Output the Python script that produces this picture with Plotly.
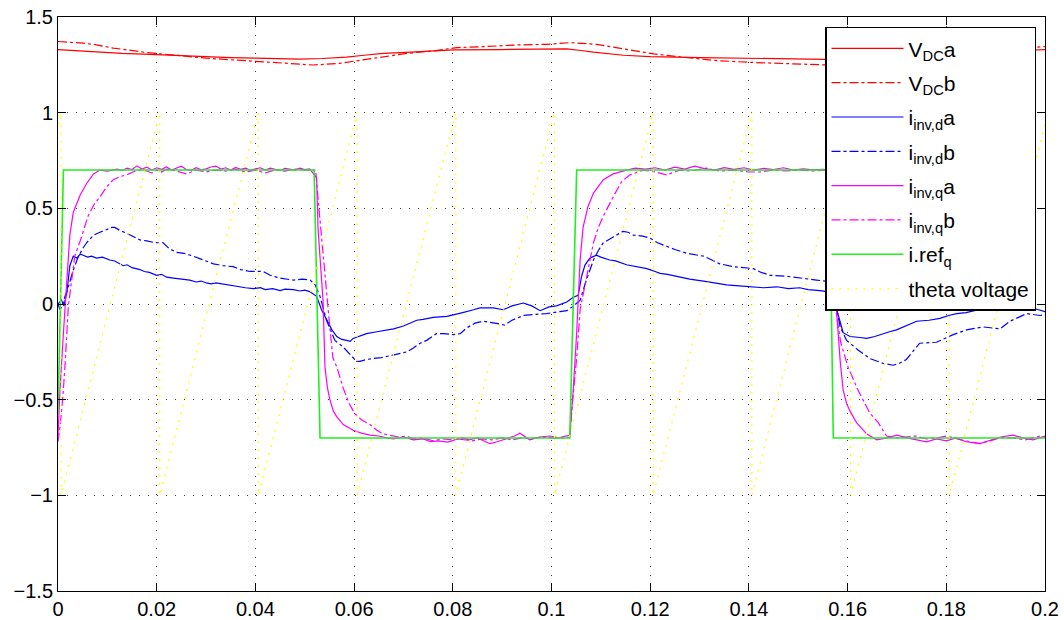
import plotly.graph_objects as go

# Simulation traces: (time [s], value) pairs for each signal.
vdc_a = [(0, 1.33), (0.003, 1.325), (0.008, 1.32), (0.013, 1.31), (0.0186, 1.305), (0.025, 1.298),
         (0.03, 1.29), (0.035, 1.288), (0.04, 1.285), (0.045, 1.282), (0.049, 1.28), (0.0535, 1.283),
         (0.0585, 1.29), (0.062, 1.30), (0.0659, 1.31), (0.0705, 1.315), (0.0747, 1.32), (0.0801, 1.328),
         (0.0896, 1.33), (0.0997, 1.333), (0.1031, 1.333), (0.106, 1.325), (0.1085, 1.316), (0.1146, 1.30),
         (0.12, 1.293), (0.1301, 1.288), (0.1402, 1.284), (0.1504, 1.28), (0.158, 1.275), (0.165, 1.275),
         (0.175, 1.285), (0.185, 1.305), (0.195, 1.325), (0.2, 1.33)]

vdc_b = [(0, 1.372), (0.0028, 1.368), (0.0051, 1.363), (0.0072, 1.357), (0.0095, 1.345), (0.0112, 1.337),
         (0.0132, 1.331), (0.018, 1.314), (0.024, 1.30), (0.03, 1.285), (0.036, 1.275), (0.042, 1.265),
         (0.0475, 1.255), (0.0517, 1.249), (0.0571, 1.258), (0.0646, 1.288), (0.0707, 1.31), (0.0761, 1.323),
         (0.0808, 1.34), (0.0862, 1.345), (0.093, 1.354), (0.099, 1.357), (0.1037, 1.366), (0.1092, 1.357),
         (0.1139, 1.337), (0.1207, 1.307), (0.1267, 1.29), (0.1335, 1.272), (0.1402, 1.263), (0.1483, 1.255),
         (0.155, 1.25), (0.162, 1.252), (0.17, 1.27), (0.18, 1.30), (0.19, 1.33), (0.2, 1.345)]

id_a = [(0, 0.0), (0.0007, 0.02), (0.0012, -0.01), (0.0018, 0.06), (0.0024, 0.20), (0.0031, 0.25),
        (0.0038, 0.24), (0.0045, 0.26), (0.0051, 0.255), (0.006, 0.245), (0.0068, 0.25), (0.0078, 0.24),
        (0.009, 0.245), (0.0105, 0.23), (0.0115, 0.225), (0.0125, 0.21), (0.0132, 0.20), (0.014, 0.205),
        (0.015, 0.19), (0.0166, 0.18), (0.0175, 0.17), (0.0185, 0.165), (0.02, 0.15), (0.021, 0.155),
        (0.022, 0.14), (0.0234, 0.135), (0.025, 0.13), (0.0267, 0.125), (0.028, 0.115), (0.029, 0.12),
        (0.0301, 0.11), (0.031, 0.105), (0.032, 0.11), (0.0342, 0.10), (0.0355, 0.095), (0.0369, 0.09),
        (0.038, 0.085), (0.0396, 0.08), (0.041, 0.085), (0.042, 0.075), (0.0435, 0.08), (0.045, 0.07),
        (0.046, 0.078), (0.0477, 0.075), (0.049, 0.068), (0.05, 0.072), (0.051, 0.065), (0.0524, 0.04),
        (0.0534, -0.03), (0.0544, -0.08), (0.0555, -0.135), (0.0565, -0.17), (0.0575, -0.185),
        (0.0585, -0.19), (0.0592, -0.195), (0.0598, -0.18), (0.061, -0.17), (0.0625, -0.155),
        (0.0646, -0.145), (0.0666, -0.135), (0.068, -0.13), (0.07, -0.115), (0.0715, -0.10),
        (0.0727, -0.085), (0.074, -0.08), (0.076, -0.07), (0.0788, -0.065), (0.0808, -0.05),
        (0.082, -0.045), (0.0842, -0.03), (0.0855, -0.02), (0.0882, -0.02), (0.0902, -0.03),
        (0.092, -0.01), (0.0943, 0.005), (0.096, -0.01), (0.0977, -0.035), (0.0995, -0.015),
        (0.101, -0.01), (0.1031, 0.01), (0.1044, 0.035), (0.1054, 0.045), (0.1061, 0.145),
        (0.1068, 0.205), (0.1078, 0.24), (0.1091, 0.255), (0.11, 0.245), (0.1118, 0.23), (0.113, 0.225),
        (0.1152, 0.205), (0.117, 0.195), (0.1193, 0.185), (0.121, 0.17), (0.122, 0.16), (0.1235, 0.155),
        (0.1254, 0.145), (0.128, 0.13), (0.1308, 0.12), (0.133, 0.11), (0.1355, 0.10), (0.138, 0.095),
        (0.1409, 0.09), (0.143, 0.085), (0.1457, 0.09), (0.148, 0.08), (0.1503, 0.085), (0.152, 0.075),
        (0.1544, 0.07), (0.156, 0.065), (0.1568, 0.04), (0.1578, -0.03), (0.1591, -0.15),
        (0.1605, -0.17), (0.1625, -0.175), (0.1639, -0.18), (0.1655, -0.17), (0.1666, -0.16),
        (0.1685, -0.145), (0.1699, -0.135), (0.172, -0.11), (0.174, -0.09), (0.1765, -0.085),
        (0.1787, -0.075), (0.1805, -0.06), (0.1821, -0.05), (0.184, -0.045), (0.1868, -0.03),
        (0.189, -0.015), (0.1909, 0.0), (0.193, 0.01), (0.1949, 0.02), (0.1963, -0.03), (0.198, -0.025),
        (0.2, -0.04)]

id_b = [(0, 0.0), (0.0004, -0.03), (0.0009, -0.01), (0.0014, 0.04), (0.002, 0.08), (0.003, 0.17),
        (0.004, 0.24), (0.005, 0.29), (0.0058, 0.32), (0.0072, 0.36), (0.0085, 0.375), (0.0099, 0.39),
        (0.0109, 0.40), (0.0115, 0.40), (0.0125, 0.385), (0.0139, 0.37), (0.015, 0.355), (0.0166, 0.335),
        (0.018, 0.33), (0.0197, 0.32), (0.0213, 0.32), (0.0225, 0.29), (0.024, 0.27), (0.0255, 0.265),
        (0.0274, 0.25), (0.029, 0.235), (0.0301, 0.225), (0.0315, 0.21), (0.0335, 0.20), (0.0355, 0.195),
        (0.037, 0.18), (0.0389, 0.17), (0.0416, 0.17), (0.043, 0.15), (0.045, 0.135), (0.0477, 0.125),
        (0.0495, 0.13), (0.0511, 0.125), (0.0521, 0.10), (0.0531, 0.04), (0.0544, -0.085),
        (0.0561, -0.19), (0.0578, -0.225), (0.059, -0.26), (0.0605, -0.30), (0.0612, -0.30),
        (0.0625, -0.29), (0.0639, -0.285), (0.0655, -0.28), (0.0673, -0.27), (0.069, -0.26),
        (0.0707, -0.25), (0.072, -0.23), (0.0734, -0.205), (0.0747, -0.19), (0.0767, -0.155),
        (0.0781, -0.155), (0.0801, -0.16), (0.0815, -0.155), (0.0828, -0.125), (0.0845, -0.10),
        (0.0862, -0.09), (0.0885, -0.10), (0.0905, -0.11), (0.092, -0.085), (0.0943, -0.06),
        (0.0965, -0.055), (0.099, -0.05), (0.1017, -0.04), (0.1031, -0.035), (0.1045, -0.01),
        (0.1058, 0.02), (0.107, 0.12), (0.1085, 0.23), (0.1095, 0.28), (0.1105, 0.32), (0.1125, 0.35),
        (0.1145, 0.38), (0.1155, 0.375), (0.1166, 0.36), (0.1185, 0.355), (0.1199, 0.345),
        (0.1215, 0.32), (0.1233, 0.30), (0.125, 0.285), (0.1274, 0.265), (0.1308, 0.25),
        (0.1325, 0.23), (0.1341, 0.21), (0.1368, 0.195), (0.1409, 0.185), (0.1425, 0.165),
        (0.1443, 0.15), (0.1476, 0.145), (0.1503, 0.135), (0.1537, 0.125), (0.1555, 0.12),
        (0.1568, 0.07), (0.1576, 0.0), (0.1585, -0.12), (0.1598, -0.19), (0.1621, -0.24),
        (0.1645, -0.285), (0.1672, -0.31), (0.1692, -0.32), (0.1705, -0.31), (0.1719, -0.29),
        (0.1735, -0.24), (0.1746, -0.205), (0.178, -0.20), (0.1814, -0.16), (0.1841, -0.135),
        (0.1875, -0.12), (0.1909, -0.13), (0.1929, -0.09), (0.1963, -0.05), (0.199, -0.06), (0.2, -0.055)]

iq_a = [(0, -0.69), (0.0004, -0.45), (0.0011, -0.15), (0.0018, 0.11), (0.0024, 0.36), (0.0031, 0.48),
        (0.0038, 0.53), (0.0045, 0.57), (0.0058, 0.63), (0.0072, 0.68), (0.0085, 0.70), (0.010, 0.695),
        (0.011, 0.70), (0.012, 0.705), (0.013, 0.698), (0.014, 0.71), (0.015, 0.703), (0.016, 0.722),
        (0.017, 0.705), (0.018, 0.715), (0.019, 0.70), (0.020, 0.712), (0.021, 0.704), (0.022, 0.716),
        (0.023, 0.70), (0.024, 0.708), (0.025, 0.72), (0.026, 0.703), (0.027, 0.699), (0.028, 0.712),
        (0.029, 0.701), (0.030, 0.706), (0.031, 0.716), (0.032, 0.721), (0.033, 0.705), (0.034, 0.712),
        (0.035, 0.70), (0.036, 0.714), (0.037, 0.704), (0.038, 0.71), (0.039, 0.699), (0.040, 0.706),
        (0.041, 0.712), (0.042, 0.70), (0.043, 0.71), (0.044, 0.704), (0.045, 0.698), (0.046, 0.709),
        (0.047, 0.703), (0.048, 0.70), (0.049, 0.71), (0.050, 0.702), (0.051, 0.706), (0.0524, 0.66),
        (0.0527, 0.39), (0.0532, 0.18), (0.0537, 0.02), (0.0541, -0.33), (0.0546, -0.44), (0.0551, -0.50),
        (0.0558, -0.56), (0.0565, -0.59), (0.0578, -0.63), (0.0598, -0.66), (0.0615, -0.675),
        (0.0632, -0.685), (0.065, -0.69), (0.0666, -0.70), (0.068, -0.705), (0.070, -0.695),
        (0.072, -0.71), (0.074, -0.705), (0.0755, -0.72), (0.077, -0.715), (0.079, -0.722),
        (0.081, -0.705), (0.083, -0.712), (0.085, -0.70), (0.0875, -0.73), (0.089, -0.72),
        (0.091, -0.705), (0.0925, -0.69), (0.0936, -0.675), (0.0956, -0.71), (0.0975, -0.695),
        (0.0997, -0.69), (0.1015, -0.70), (0.1037, -0.685), (0.1044, -0.45), (0.1051, -0.15),
        (0.1058, 0.23), (0.1064, 0.40), (0.1074, 0.51), (0.1085, 0.58), (0.1105, 0.65), (0.1125, 0.68),
        (0.1152, 0.70), (0.117, 0.71), (0.119, 0.705), (0.121, 0.712), (0.123, 0.70), (0.125, 0.715),
        (0.127, 0.705), (0.129, 0.72), (0.131, 0.708), (0.133, 0.70), (0.135, 0.713), (0.137, 0.704),
        (0.139, 0.712), (0.141, 0.70), (0.143, 0.709), (0.145, 0.703), (0.147, 0.712), (0.149, 0.70),
        (0.151, 0.706), (0.153, 0.701), (0.155, 0.704), (0.1566, 0.70), (0.157, 0.45), (0.1575, 0.05),
        (0.158, -0.12), (0.1585, -0.30), (0.1591, -0.45), (0.1598, -0.52), (0.1605, -0.56),
        (0.1618, -0.62), (0.1639, -0.68), (0.1659, -0.71), (0.168, -0.70), (0.170, -0.685),
        (0.172, -0.70), (0.174, -0.71), (0.176, -0.72), (0.178, -0.705), (0.180, -0.715), (0.182, -0.70),
        (0.184, -0.72), (0.1868, -0.73), (0.189, -0.71), (0.191, -0.695), (0.1935, -0.685),
        (0.1955, -0.70), (0.1976, -0.71), (0.2, -0.69)]

iq_b = [(0, -0.72), (0.0005, -0.62), (0.001, -0.48), (0.0014, -0.33), (0.0021, -0.01), (0.0028, 0.14),
        (0.0034, 0.25), (0.0045, 0.33), (0.0061, 0.46), (0.0073, 0.52), (0.0085, 0.56), (0.0098, 0.61),
        (0.0112, 0.65), (0.0125, 0.665), (0.0139, 0.675), (0.0152, 0.69), (0.0166, 0.70), (0.018, 0.695),
        (0.019, 0.685), (0.020, 0.70), (0.021, 0.69), (0.022, 0.705), (0.024, 0.695), (0.026, 0.68),
        (0.028, 0.70), (0.030, 0.69), (0.032, 0.70), (0.034, 0.695), (0.036, 0.705), (0.038, 0.69),
        (0.040, 0.70), (0.042, 0.685), (0.044, 0.70), (0.046, 0.695), (0.048, 0.705), (0.050, 0.70),
        (0.0522, 0.70), (0.0527, 0.55), (0.0532, 0.40), (0.0537, 0.25), (0.0544, 0.05), (0.055, -0.10),
        (0.0557, -0.28), (0.0565, -0.33), (0.0578, -0.44), (0.059, -0.52), (0.0602, -0.575),
        (0.0615, -0.605), (0.0632, -0.63), (0.0646, -0.66), (0.066, -0.68), (0.0673, -0.688),
        (0.069, -0.695), (0.0707, -0.69), (0.072, -0.705), (0.074, -0.70), (0.076, -0.715),
        (0.078, -0.705), (0.080, -0.71), (0.082, -0.70), (0.084, -0.715), (0.086, -0.705),
        (0.088, -0.71), (0.090, -0.70), (0.092, -0.71), (0.094, -0.70), (0.096, -0.705),
        (0.098, -0.695), (0.100, -0.70), (0.102, -0.70), (0.1037, -0.695), (0.1043, -0.50),
        (0.1051, -0.28), (0.1058, -0.03), (0.1071, 0.13), (0.1085, 0.32), (0.1095, 0.40),
        (0.1105, 0.46), (0.1125, 0.56), (0.1142, 0.64), (0.1159, 0.675), (0.1186, 0.70), (0.121, 0.69),
        (0.1233, 0.675), (0.126, 0.70), (0.128, 0.695), (0.1314, 0.71), (0.134, 0.695), (0.137, 0.70),
        (0.140, 0.69), (0.1422, 0.69), (0.145, 0.70), (0.1475, 0.695), (0.1503, 0.70), (0.153, 0.695),
        (0.1565, 0.70), (0.157, 0.55), (0.1576, -0.03), (0.1586, -0.20), (0.1601, -0.33),
        (0.1621, -0.45), (0.1645, -0.57), (0.1662, -0.62), (0.1679, -0.69), (0.170, -0.70),
        (0.1737, -0.69), (0.176, -0.705), (0.178, -0.70), (0.1801, -0.69), (0.183, -0.71),
        (0.1868, -0.73), (0.189, -0.715), (0.191, -0.70), (0.1935, -0.70), (0.196, -0.71),
        (0.199, -0.69), (0.2, -0.695)]

iref_q = [(0, -0.57), (0.0011, 0.70), (0.0519, 0.70), (0.0531, -0.70), (0.1037, -0.70), (0.1051, 0.70),
          (0.1563, 0.70), (0.1571, -0.70), (0.2, -0.70)]

theta_v = [(0, 0.94), (0.0006, 1), (0.0006, -1), (0.0206, 1), (0.0206, -1), (0.0406, 1), (0.0406, -1),
           (0.0606, 1), (0.0606, -1), (0.0806, 1), (0.0806, -1), (0.1006, 1), (0.1006, -1), (0.1206, 1),
           (0.1206, -1), (0.1406, 1), (0.1406, -1), (0.1606, 1), (0.1606, -1), (0.1806, 1), (0.1806, -1),
           (0.2, 0.94)]

series = [
    ("V<sub>DC</sub>a", vdc_a, "#ff0000", "solid", 1.2),
    ("V<sub>DC</sub>b", vdc_b, "#ff0000", "dashdot", 1.2),
    ("i<sub>inv,d</sub>a", id_a, "#0000ff", "solid", 1.2),
    ("i<sub>inv,d</sub>b", id_b, "#0000ff", "dashdot", 1.2),
    ("i<sub>inv,q</sub>a", iq_a, "#ff00ff", "solid", 1.2),
    ("i<sub>inv,q</sub>b", iq_b, "#ff00ff", "dashdot", 1.2),
    ("i.ref<sub>q</sub>", iref_q, "#22ee22", "solid", 1.6),
    ("theta voltage", theta_v, "#ffff00", "2px,6px", 1.2),
]

fig = go.Figure()
for i, (name, pts, color, dash, width) in enumerate(series):
    t, v = zip(*pts)
    fig.add_trace(go.Scatter(
        x=list(t), y=list(v), mode="lines", name=name, legendgroup=f"g{i}",
        line=dict(color=color, dash=dash, width=width),
    ))

font_family = "Liberation Sans, Arial, Helvetica, sans-serif"
axis_common = dict(
    showline=True, linecolor="black", linewidth=1, mirror="ticks",
    ticks="inside", ticklen=8, tickcolor="black", tickwidth=1,
    showgrid=True, gridcolor="#3a3a3a", gridwidth=1, griddash="1px,8px",
    zeroline=False, automargin=False,
    tickfont=dict(size=20, color="black", family=font_family),
)

fig.update_layout(
    width=1064, height=620,
    margin=dict(l=58, r=19, t=17, b=29),
    paper_bgcolor="white", plot_bgcolor="white",
    font=dict(family=font_family, size=20, color="black"),
    xaxis=dict(range=[0, 0.2], tickmode="linear", tick0=0, dtick=0.02, **axis_common),
    yaxis=dict(range=[-1.5, 1.5], tickmode="linear", tick0=-1.5, dtick=0.5, **axis_common),
    legend=dict(
        x=0.9909, y=0.983, xanchor="right", yanchor="top",
        bgcolor="white", bordercolor="black", borderwidth=1.5,
        font=dict(size=21, color="black", family=font_family),
        tracegroupgap=4, itemwidth=72,
    ),
    showlegend=True,
)

fig.write_html("out.html")
